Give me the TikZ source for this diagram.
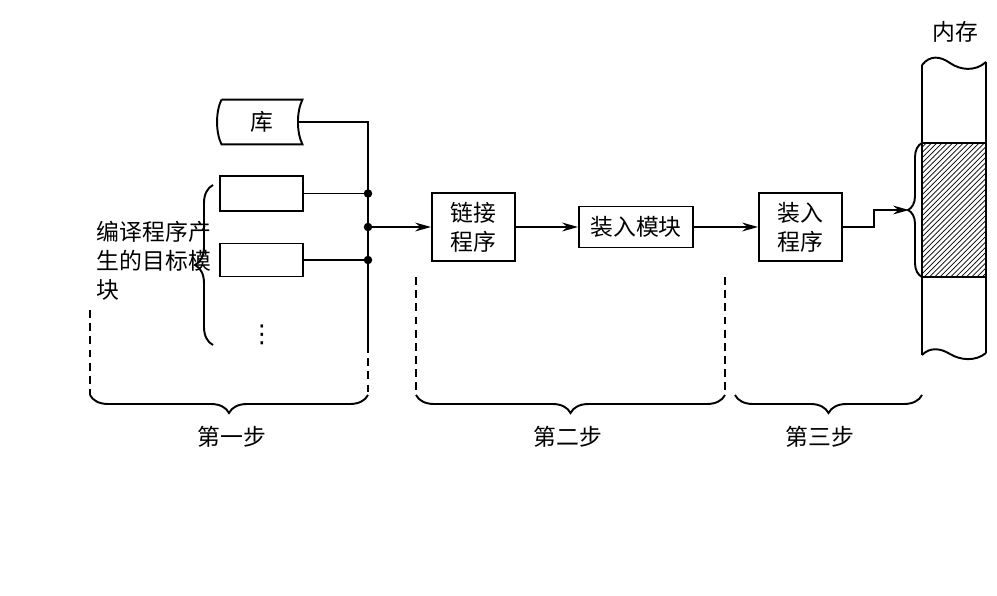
\documentclass[tikz,border=0pt]{standalone}
\usepackage{fontspec}
\newfontfamily\cjk{Noto Sans CJK SC}
\newfontfamily\symf{DejaVu Sans}
\usetikzlibrary{arrows.meta, positioning, decorations.pathreplacing, patterns}

\begin{document}
\begin{tikzpicture}[x=0.02cm, y=-0.02cm, line width=1.1pt,
  font=\cjk\fontsize{13}{16.5}\selectfont,
  box/.style={rectangle, draw, minimum width=1.66cm, align=center, inner sep=0pt},
  arr/.style={-{Stealth[length=9pt, width=5pt]}},
  dashline/.style={dash pattern=on 4.5pt off 3pt},
  brc/.style={decorate, decoration={brace, amplitude=#1}},
  dot/.style={circle, fill, inner sep=0pt, minimum size=0.17cm}
]
\useasboundingbox (0,0) rectangle (997,595);

% Nodes
\node[inner sep=0pt, minimum width=1.58cm, minimum height=0.86cm] (lib) at (262,122) {库};
\node[box, minimum height=0.7cm] (mod1) at (261.5,193.5) {};
\node[box, minimum height=0.66cm] (mod2) at (261.5,260) {};
\node[font=\symf\fontsize{14}{16}\selectfont] (more) at (262,335) {⋮};
\node[anchor=west, align=left, inner sep=0pt] (src) at (96,261) {编译程序产\\生的目标模\\块};
\node[box, minimum height=1.36cm] (link) at (473.5,227) {链接\\程序};
\node[box, minimum width=2.28cm, minimum height=0.82cm] (loadmod) at (636,227) {装入模块};
\node[box, minimum height=1.36cm] (loader) at (800.5,227) {装入\\程序};
\node (memlbl) at (955,32) {内存};
\node (step1) at (232,437) {第一步};
\node (step2) at (568,437) {第二步};
\node (step3) at (820,437) {第三步};

\coordinate (j1) at (368,193.5);
\coordinate (j2) at (368,227);
\coordinate (j3) at (368,260);
\coordinate (busend) at (368,345);
\coordinate (memtip) at (909,210);

% library outline
\draw (lib.north west) -- (lib.north east)
  .. controls +(-6,12) and +(-6,-12) .. (lib.south east) -- (lib.south west)
  .. controls +(-6,-12) and +(-6,12) .. (lib.north west);

% bus
\draw ([xshift=-0.09cm]lib.east) -| (busend);
\draw (mod1.east) -- (j1);
\draw (mod2.east) -- (j3);
\node[dot] at (j1) {};
\node[dot] at (j2) {};
\node[dot] at (j3) {};

% Arrows
\draw[arr] (j2) -- (link.west);
\draw[arr] (link.east) -- (loadmod.west);
\draw[arr] (loadmod.east) -- (loader.west);
\draw[arr] (loader.east) -- ++(31,0) |- (memtip);

% memory
\fill[pattern=north east lines] (922,143) rectangle (986,277);
\draw (922,65) .. controls (930,55) and (940,56) .. (950,63)
  .. controls (960,70) and (975,72) .. (986,62);
\draw (922,355) .. controls (930,347) and (940,348) .. (950,354)
  .. controls (960,360) and (975,362) .. (986,353);
\draw (922,65) -- (922,355);
\draw (986,62) -- (986,353);
\draw (922,143) -- (986,143);
\draw (922,277) -- (986,277);

% braces
\draw[brc=0.36cm] (213,345) -- (213,185);
\draw[brc=0.28cm] (922,277) -- (922,143);
\draw[dashline] (90,310) -- (90,395);
\draw[dashline] (busend) -- (368,395);
\draw[dashline] (416,277) -- (416,395);
\draw[dashline] (725,277) -- (725,395);
\draw[brc=0.36cm] (368,395) -- (90,395);
\draw[brc=0.36cm] (725,395) -- (416,395);
\draw[brc=0.36cm] (922,395) -- (735,395);

\end{tikzpicture}
\end{document}
